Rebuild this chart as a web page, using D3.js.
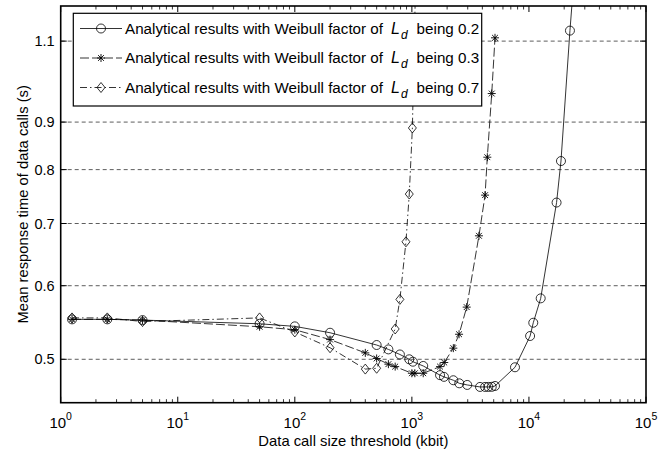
<!DOCTYPE html>
<html>
<head>
<meta charset="utf-8">
<script src="https://cdn.jsdelivr.net/npm/d3@7"></script>
<style>
  html, body { margin: 0; padding: 0; background: #fff; }
  svg { display: block; font-family: "Liberation Sans", Arial, Helvetica, sans-serif; }
</style>
</head>
<body>
<svg id="chart" width="669" height="454"></svg>
<script>
// Data call size threshold (kbit) and mean response time (s) per Weibull factor
const thresholdsA = [1.25, 2.5, 5, 50, 100, 200, 500, 630, 790, 950, 1020, 1250, 1740, 1880, 2260, 2540, 2970, 3820, 4220, 4500, 4810, 5130, 7600, 10230, 10890, 12600, 17220, 18780, 22400, 25000];
const responseA = [0.552, 0.552, 0.551, 0.546, 0.5425, 0.534, 0.518, 0.5124, 0.506, 0.500, 0.497, 0.4918, 0.4807, 0.4787, 0.4747, 0.4711, 0.4692, 0.4669, 0.4669, 0.4669, 0.467, 0.468, 0.4902, 0.5297, 0.5474, 0.5815, 0.7373, 0.8172, 1.129, 1.35];

const thresholdsB = [1.25, 2.5, 5, 50, 100, 200, 400, 500, 630, 720, 1000, 1060, 1250, 1740, 1890, 2260, 2530, 2940, 3740, 4220, 4410, 4810, 5130];
const responseB = [0.552, 0.552, 0.551, 0.542, 0.538, 0.525, 0.508, 0.501, 0.494, 0.491, 0.483, 0.483, 0.483, 0.491, 0.496, 0.514, 0.532, 0.569, 0.679, 0.751, 0.825, 0.966, 1.109];

const thresholdsC = [1.25, 2.5, 5, 50, 100, 200, 400, 500, 720, 790, 890, 950, 1010, 1080];
const responseC = [0.554, 0.554, 0.549, 0.554, 0.535, 0.5145, 0.488, 0.489, 0.539, 0.580, 0.669, 0.753, 0.887, 1.3];

const seriesNames = ["0.2", "0.3", "0.7"];
const xTickValues = [1, 10, 100, 1000, 10000, 100000];
const yTickValues = [0.5, 0.6, 0.7, 0.8, 0.9, 1.1];
const yTickLabels = ["0.5", "0.6", "0.7", "0.8", "0.9", "1.1"];

const svg = d3.select("#chart");
const W = 669, H = 454;
const margin = { left: 60.7, top: 6, right: 23, bottom: 51.3 };
const x0 = margin.left, x1 = W - margin.right, y0 = H - margin.bottom, y1 = margin.top;

const x = d3.scaleLog().domain([1, 1e5]).range([x0, x1]);
const y = d3.scaleLog().domain([0.449, 1.2]).range([y0, y1]);

svg.append("defs").append("clipPath").attr("id", "plotclip")
  .append("rect").attr("x", x0).attr("y", y1).attr("width", x1 - x0).attr("height", y0 - y1);

// horizontal dashed grid
svg.append("g").selectAll("line").data(yTickValues).join("line")
  .attr("x1", x0).attr("x2", x1)
  .attr("y1", d => y(d)).attr("y2", d => y(d))
  .attr("stroke", "#333").attr("stroke-width", 0.8).attr("stroke-dasharray", "4,3");

// series
const series = [
  { xs: thresholdsA, ys: responseA, dash: null, marker: "circle" },
  { xs: thresholdsB, ys: responseB, dash: "9,3", marker: "star" },
  { xs: thresholdsC, ys: responseC, dash: "7,3,1.5,3", marker: "diamond" }
];

function drawMarker(g, kind, cx, cy) {
  if (kind === "circle") {
    g.append("circle").attr("cx", cx).attr("cy", cy).attr("r", 4.5)
      .attr("fill", "none").attr("stroke", "#000").attr("stroke-width", 0.8);
  } else if (kind === "diamond") {
    g.append("path").attr("d", `M${cx},${cy - 5}L${cx + 4},${cy}L${cx},${cy + 5}L${cx - 4},${cy}Z`)
      .attr("fill", "none").attr("stroke", "#000").attr("stroke-width", 0.8);
  } else {
    const r = 4, q = 2.9;
    g.append("path")
      .attr("d", `M${cx},${cy - r}V${cy + r}M${cx - r},${cy}H${cx + r}M${cx - q},${cy - q}L${cx + q},${cy + q}M${cx - q},${cy + q}L${cx + q},${cy - q}`)
      .attr("fill", "none").attr("stroke", "#000").attr("stroke-width", 0.9);
  }
}

const plot = svg.append("g").attr("clip-path", "url(#plotclip)");
const line = d3.line().x(d => x(d[0])).y(d => y(d[1]));
series.forEach(s => {
  const pts = s.xs.map((v, i) => [v, s.ys[i]]);
  plot.append("path").datum(pts).attr("d", line)
    .attr("fill", "none").attr("stroke", "#000").attr("stroke-width", 0.8)
    .attr("stroke-dasharray", s.dash);
  const mg = plot.append("g");
  pts.forEach(p => drawMarker(mg, s.marker, x(p[0]), y(p[1])));
});

// axes box and ticks (inward, on all four sides)
const axisG = svg.append("g");
const minorX = [];
for (let e = 0; e < 5; e++) for (let m = 2; m <= 9; m++) minorX.push(m * Math.pow(10, e));

axisG.selectAll(".xmaj").data(xTickValues).join("g").each(function(d) {
  const g = d3.select(this);
  g.append("line").attr("x1", x(d)).attr("x2", x(d)).attr("y1", y0).attr("y2", y0 - 6).attr("stroke", "#000");
  g.append("line").attr("x1", x(d)).attr("x2", x(d)).attr("y1", y1).attr("y2", y1 + 6).attr("stroke", "#000");
});
axisG.selectAll(".xmin").data(minorX).join("g").each(function(d) {
  const g = d3.select(this);
  g.append("line").attr("x1", x(d)).attr("x2", x(d)).attr("y1", y0).attr("y2", y0 - 3.5).attr("stroke", "#000").attr("stroke-width", 0.8);
  g.append("line").attr("x1", x(d)).attr("x2", x(d)).attr("y1", y1).attr("y2", y1 + 3.5).attr("stroke", "#000").attr("stroke-width", 0.8);
});
axisG.selectAll(".ymaj").data(yTickValues).join("g").each(function(d) {
  const g = d3.select(this);
  g.append("line").attr("x1", x0).attr("x2", x0 + 6).attr("y1", y(d)).attr("y2", y(d)).attr("stroke", "#000");
  g.append("line").attr("x1", x1).attr("x2", x1 - 6).attr("y1", y(d)).attr("y2", y(d)).attr("stroke", "#000");
});
axisG.append("rect").attr("x", x0).attr("y", y1).attr("width", x1 - x0).attr("height", y0 - y1)
  .attr("fill", "none").attr("stroke", "#000").attr("stroke-width", 1.6);

// tick labels
const xl = svg.append("g").attr("font-size", 15).attr("fill", "#000");
xTickValues.forEach(d => {
  const t = xl.append("text").attr("x", x(d)).attr("y", y0 + 25).attr("text-anchor", "middle");
  t.append("tspan").text("10");
  t.append("tspan").attr("dy", -8).attr("font-size", 10.5).text(Math.round(Math.log10(d)));
});
const yl = svg.append("g").attr("font-size", 14.5).attr("fill", "#000");
yTickValues.forEach((d, i) => {
  yl.append("text").attr("x", x0 - 6).attr("y", y(d)).attr("dy", "0.35em")
    .attr("text-anchor", "end").text(yTickLabels[i]);
});

// axis titles
svg.append("text").attr("x", (x0 + x1) / 2).attr("y", 446).attr("text-anchor", "middle")
  .attr("font-size", 14.8).text("Data call size threshold (kbit)");
svg.append("text").attr("transform", `translate(28,${(y0 + y1) / 2}) rotate(-90)`)
  .attr("text-anchor", "middle").attr("font-size", 14.8).text("Mean response time of data calls (s)");

// legend: each entry is "Analytical results ... of", italic L with subscript d, then "being <factor>"
const lg = svg.append("g");
lg.append("rect").attr("x", 73.3).attr("y", 13.3).attr("width", 408.4).attr("height", 92.7)
  .attr("fill", "#fff").attr("stroke", "#000").attr("stroke-width", 1.2);
const rowY = [28.5, 58, 87.5];
series.forEach((s, i) => {
  const ry = rowY[i];
  const base = ry + 5;
  lg.append("line").attr("x1", 80).attr("x2", 122).attr("y1", ry).attr("y2", ry)
    .attr("stroke", "#000").attr("stroke-width", 0.8).attr("stroke-dasharray", s.dash);
  drawMarker(lg, s.marker, 101, ry);
  const main = lg.append("text").attr("x", 125).attr("y", base).attr("font-size", 15.2)
    .text("Analytical results with Weibull factor of");
  const mainEnd = 125 + main.node().getComputedTextLength();
  const L = lg.append("text").attr("x", mainEnd + 8).attr("y", base).attr("font-size", 16)
    .attr("font-style", "italic").text("L");
  const LEnd = mainEnd + 8 + L.node().getComputedTextLength();
  const sub = lg.append("text").attr("x", LEnd + 1).attr("y", base + 5).attr("font-size", 12)
    .attr("font-style", "italic").text("d");
  const subEnd = LEnd + 1 + sub.node().getComputedTextLength();
  lg.append("text").attr("x", subEnd + 9).attr("y", base).attr("font-size", 15.2)
    .text("being " + seriesNames[i]);
});
</script>
</body>
</html>
